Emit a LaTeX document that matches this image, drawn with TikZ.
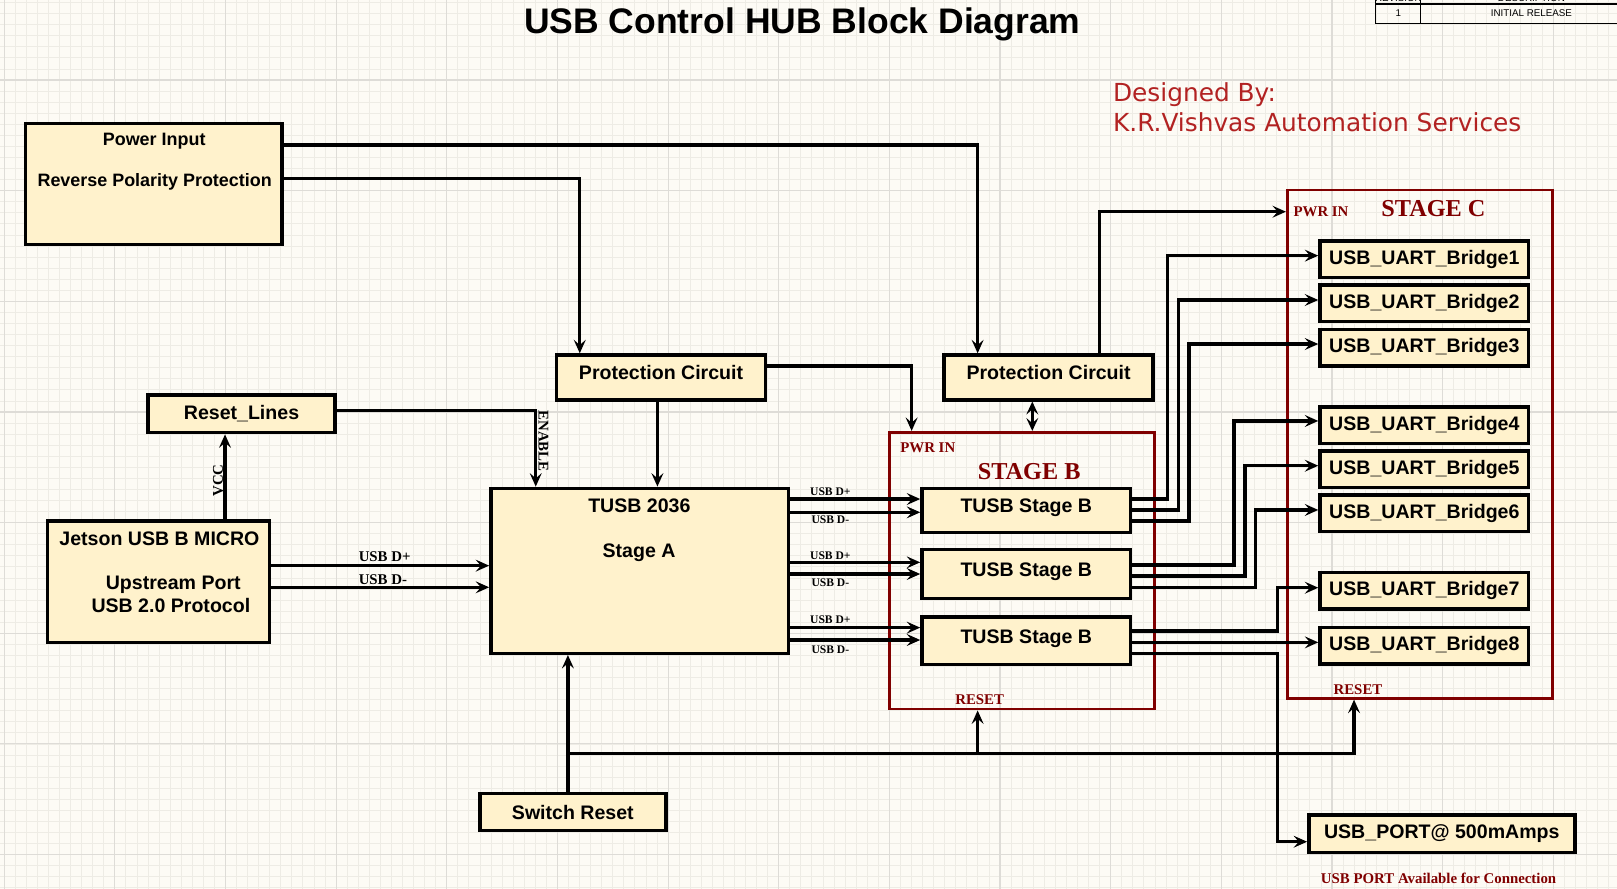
\documentclass[tikz,border=0pt]{standalone}
\usepackage{fontspec}
\setmainfont{Liberation Sans}
\newfontfamily\tms{Liberation Serif}
\newfontfamily\dvs{DejaVu Sans}
\usetikzlibrary{arrows.meta,positioning}
\definecolor{bg}{RGB}{253,251,245}
\definecolor{gmin}{RGB}{238,236,229}
\definecolor{gmaj}{RGB}{222,220,215}
\definecolor{bx}{RGB}{255,242,204}
\definecolor{mr}{RGB}{128,0,0}
\definecolor{fb}{RGB}{178,34,34}
\tikzset{blk/.style={draw,fill=bx,line width=1.9pt,inner sep=0pt,font=\bfseries\fontsize{10.8}{13}\selectfont},
 hi/.style={text height=7pt,text depth=4.2pt},
 uart/.style={blk,minimum width=4.05cm,minimum height=.71cm},
 tb/.style={blk,hi,minimum width=4.05cm},
 frm/.style={draw=mr,line width=1.5pt,inner sep=0pt},
 wire/.style={line width=1.85pt},
 arr/.style={wire,-{Stealth[length=2.6mm,width=2.3mm,inset=1mm]}},
 dbl/.style={wire,{Stealth[length=2.5mm,width=2.3mm,inset=1mm]}-{Stealth[length=2.5mm,width=2.3mm,inset=1mm]}},
 txt/.style={inner sep=0pt,anchor=base,font=\bfseries\fontsize{10.8}{13}\selectfont},
 ptxt/.style={txt,font=\bfseries\fontsize{9.9}{12}\selectfont},
 sig/.style={inner sep=0pt,anchor=base,font=\tms\bfseries\fontsize{6.4}{7}\selectfont},
 sigl/.style={sig,font=\tms\bfseries\fontsize{8.2}{9}\selectfont},
 tag/.style={sigl,text=mr},
 stgt/.style={tag,font=\tms\bfseries\fontsize{13.4}{15}\selectfont},
 rev/.style={inner sep=0pt,anchor=base,font=\fontsize{5.4}{6}\selectfont},
 minl/.style={draw=gmin,line width=.45pt},majl/.style={draw=gmaj,line width=.6pt}}
\begin{document}
\begin{tikzpicture}[x=.02cm,y=-.02cm]
\useasboundingbox (0,0) rectangle (1568,862);
% sheet
\fill[bg] (0,0) rectangle (1568,862);
\foreach \i in {0,...,146} \draw[minl] ({4+10.73*\i},0) -- ++(0,862);
\foreach \i in {0,...,80} \draw[minl] (0,{2.49+10.73*\i}) -- ++(1568,0);
\foreach \i in {0,...,14} \draw[majl] ({4+107.3*\i},0) -- ++(0,862);
\foreach \i in {0,...,7} \draw[majl] (0,{77.6+107.3*\i}) -- ++(1568,0);
% revision block
\draw[line width=.6pt] (1334,-10) -- (1334,22.6) -- (1600,22.6) (1334,3.9) -- (1600,3.9) (1377,-10) -- (1377,22.6);
\node[rev] at (1356,1.5) {REVISION};\node[rev] at (1485,1.5) {DESCRIPTION};
\node[rev] at (1356,16.2) {1};\node[rev] at (1485,16.2) {INITIAL RELEASE};
\node[txt,font=\bfseries\fontsize{19.6}{22}\selectfont] at (778,32.3) {USB Control HUB Block Diagram};
\node[anchor=base west,inner sep=0pt,text=fb,font=\dvs\fontsize{13.7}{16}\selectfont] at (1079,98.6) {Designed By:};
\node[anchor=base west,inner sep=0pt,text=fb,font=\dvs\fontsize{13.7}{16}\selectfont] at (1079,127.7) {K.R.Vishvas Automation Services};
% blocks
\node[blk,minimum width=4.97cm,minimum height=2.35cm] (pwr) at (149.2,178.3) {};
\node[ptxt] at (149.5,141.3) {Power Input};
\node[ptxt] at (150,181) {Reverse Polarity Protection};
\node[blk,hi,minimum width=4.05cm,minimum height=.87cm] (pc1) at (641,366) {Protection Circuit};
\node[blk,hi,minimum width=4.05cm,minimum height=.87cm] (pc2) at (1016.8,366) {Protection Circuit};
\node[blk,minimum width=3.62cm,minimum height=.73cm] (rst) at (234.2,401.3) {Reset\_Lines};
\node[blk,minimum width=4.3cm,minimum height=2.36cm] (jet) at (153.6,564.2) {};
\node[txt] at (154.6,528.5) {Jetson USB B MICRO};
\node[txt] at (168,571.5) {Upstream Port};
\node[txt] at (165.7,593.8) {USB 2.0 Protocol};
\node[blk,minimum width=5.77cm,minimum height=3.2cm] (tusb) at (620.2,553.5) {};
\node[txt] at (620,497) {TUSB 2036};
\node[txt] at (619.7,540.8) {Stage A};
\node[blk,minimum width=3.61cm,minimum height=.72cm] (sw) at (555.5,787.4) {Switch Reset};
% stage B
\node[frm,minimum width=5.14cm,minimum height=5.37cm] (stgB) at (991,553.4) {};
\node[tag,anchor=base west] at (872.7,438.6) {PWR IN};
\node[stgt] at (998,464.8) {STAGE B};
\node[tag] at (950,682.7) {RESET};
\node[tb,minimum height=.85cm] (b1) at (995.2,494.9) {TUSB Stage B};
\node[tb,minimum height=.94cm] (b2) at (995.2,556.6) {TUSB Stage B};
\node[tb,minimum height=.92cm] (b3) at (995.2,621.1) {TUSB Stage B};
% stage C
\node[frm,minimum width=5.15cm,minimum height=9.86cm] (stgC) at (1377,430.7) {};
\node[tag,anchor=base west] at (1254,209.5) {PWR IN};
\node[stgt] at (1390,210) {STAGE C};
\node[tag] at (1316.8,673) {RESET};
\foreach \n/\y in {1/251.4,2/294.2,3/337,4/412.2,5/454.9,6/497.7,7/573,8/626.3}
 \node[uart] (u\n) at (1381.2,\y) {USB\_UART\_Bridge\n};
\node[blk,minimum width=5.16cm,minimum height=.73cm] (prt) at (1398.1,808.5) {USB\_PORT@ 500mAmps};
\node[tag] at (1395,856.5) {USB PORT Available for Connection};
% power and reset wiring
\draw[arr] (pwr.east |- 0,140.6) -| (pc2.north -| 948,0);
\draw[arr] (pwr.east |- 0,173.3) -| (pc1.north -| 562.2,0);
\draw[arr] (pc1.south -| 637.5,0) -- (tusb.north -| 637.5,0);
\draw[arr] (pc1.east |- 0,354.9) -| (stgB.north -| 884,0);
\draw[arr] (pc2.north -| 1066,0) |- (stgC.west |- 0,205.3);
\draw[dbl] (pc2.south -| 1001,0) -- (stgB.north -| 1001,0);
\draw[arr] (rst.east |- 0,398.2) -| (tusb.north -| 519.5,0);
\node[sigl,anchor=center,rotate=-90] at (527,427.7) {ENABLE};
\draw[arr] (jet.north -| 218.2,0) -- (rst.south -| 218.2,0);
\node[sigl,anchor=center,rotate=90] at (211.5,466) {VCC};
\draw[arr] (sw.north -| 550.7,0) -- (tusb.south -| 550.7,0);
\coordinate (jn) at (550.7,730.5);
\draw[arr] (jn) -| (stgC.south -| 1313,0);
\draw[arr] (jn -| 948,0) -- (stgB.south -| 948,0);
% usb data lines
\draw[arr] (jet.east |- 0,548.5) -- (tusb.west |- 0,548.5);
\draw[arr] (jet.east |- 0,569.5) -- (tusb.west |- 0,569.5);
\node[sigl] at (373,544.7) {USB D+};\node[sigl] at (371.3,566.3) {USB D-};
\foreach \b/\p/\m/\lp/\lm in {b1/483.9/496.8/480.7/507.5,b2/545.3/556.6/542.4/568.9,b3/608.6/620.6/604.4/633.5}{
 \draw[arr] (tusb.east |- 0,\p) -- (\b.west |- 0,\p);
 \draw[arr] (tusb.east |- 0,\m) -- (\b.west |- 0,\m);
 \node[sig] at (805.2,\lp) {USB D+};\node[sig] at (805.2,\lm) {USB D-};}
\draw[arr] (b1.east |- 0,483.9) -- ++(34,0) |- (u1.west |- 0,247.9);
\draw[arr] (b1.east |- 0,494.5) -- ++(44.6,0) |- (u2.west |- 0,290.9);
\draw[arr] (b1.east |- 0,505.2) -- ++(55,0) |- (u3.west |- 0,333.6);
\draw[arr] (b2.east |- 0,547.9) -- ++(98.6,0) |- (u4.west |- 0,408.2);
\draw[arr] (b2.east |- 0,558.5) -- ++(109.3,0) |- (u5.west |- 0,451.6);
\draw[arr] (b2.east |- 0,569.5) -- ++(119.6,0) |- (u6.west |- 0,494.5);
\draw[arr] (b3.east |- 0,611.9) -- ++(140.8,0) |- (u7.west |- 0,569.9);
\draw[arr] (b3.east |- 0,622.9) -- (u8.west |- 0,622.9);
\draw[arr] (b3.east |- 0,633.5) -- ++(140.8,0) |- (prt.west |- 0,816.2);
\end{tikzpicture}
\end{document}
